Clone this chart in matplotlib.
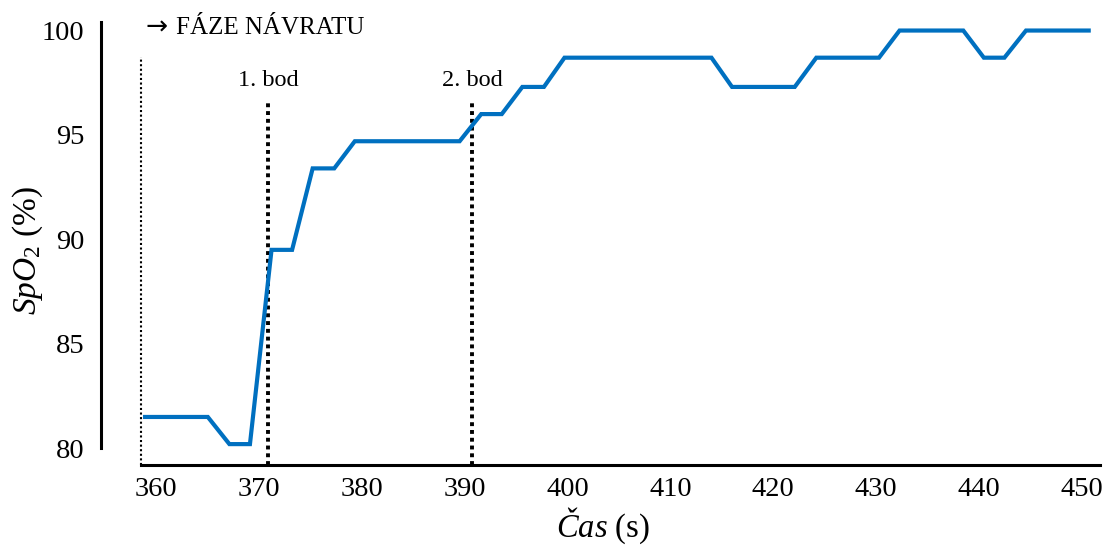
import matplotlib.pyplot as plt
import matplotlib as mpl

plt.rcParams['font.family'] = ['Liberation Serif', 'DejaVu Serif']
plt.rcParams['mathtext.fontset'] = 'custom'
plt.rcParams['mathtext.rm'] = 'Liberation Serif'
plt.rcParams['mathtext.it'] = 'Liberation Serif:italic'

# time (s) and SpO2 (%)
cas = [358.9, 361.0, 363.0, 365.0, 367.1, 369.1, 371.2, 373.2, 375.2, 377.3,
       379.3, 381.4, 383.4, 385.4, 387.5, 389.5, 391.6, 393.6, 395.6, 397.7,
       399.7, 401.8, 403.8, 405.8, 407.9, 409.9, 411.9, 414.0, 416.0, 418.1,
       420.1, 422.1, 424.2, 426.2, 428.3, 430.3, 432.3, 434.4, 436.4, 438.5,
       440.5, 442.5, 444.6, 446.6, 448.7, 450.7]
spo2 = [81.5, 81.5, 81.5, 81.5, 80.2, 80.2, 89.5, 89.5, 93.4, 93.4,
        94.7, 94.7, 94.7, 94.7, 94.7, 94.7, 96.0, 96.0, 97.3, 97.3,
        98.7, 98.7, 98.7, 98.7, 98.7, 98.7, 98.7, 98.7, 97.3, 97.3,
        97.3, 97.3, 98.7, 98.7, 98.7, 98.7, 100, 100, 100, 100,
        98.7, 98.7, 100, 100, 100, 100]

navrat_t = 358.5
body_t = [370.9, 390.7]
body_lbl = ['1. bod', '2. bod']
yticks = [80, 85, 90, 95, 100]
xticks = [360, 370, 380, 390, 400, 410, 420, 430, 440, 450]

fig = plt.figure(figsize=(11.07, 5.45), dpi=100)
ax = fig.add_axes([141/1107, 80/545, 959/1107, 447/545])

ax.plot(cas, spo2, color='#0070C0', lw=3, solid_joinstyle='miter', zorder=3)

ax.vlines(navrat_t, 79.2, 98.73, colors='k', linestyles=(0, (1, 1.2)), lw=1.5, clip_on=False)
for t, lbl in zip(body_t, body_lbl):
    ax.vlines(t, 79.2, 96.67, colors='k', linestyles=(0, (1, 1)), lw=2.8, clip_on=False)
    ax.text(t, 97.6, lbl, ha='center', va='center', fontsize=17.5)

# arrow + label of the recovery phase
ax.text(358.95, 100.15, '\u2192', ha='left', va='center', fontsize=19,
        family='DejaVu Sans', clip_on=False)
ax.text(361.9, 100.12, 'FÁZE NÁVRATU', ha='left', va='center', fontsize=18, clip_on=False)

ax.set_xlim(358.5, 451.8)
ax.set_ylim(79.2, 100.6)
ax.set_xticks(xticks)
ax.set_yticks(yticks)
ax.tick_params(axis='both', length=0, labelsize=20.5)
ax.tick_params(axis='y', pad=12)
ax.tick_params(axis='x', pad=9)

for s in ['top', 'right']:
    ax.spines[s].set_visible(False)
ax.spines['bottom'].set_linewidth(2.2)
ax.spines['left'].set_linewidth(2.2)
ax.spines['left'].set_position(('outward', 28.8))
ax.spines['left'].set_bounds(80, 100.43)

ax.set_xlabel(r'$\mathit{Čas}$ (s)', fontsize=23.5, va='center')
ax.xaxis.set_label_coords(0.482, -0.135)
ax.set_ylabel(r'$\mathit{SpO_2}$ (%)', fontsize=24, va='center')
ax.yaxis.set_label_coords(-0.118, 0.48)

fig.savefig('out.png', dpi=100, facecolor='white')
